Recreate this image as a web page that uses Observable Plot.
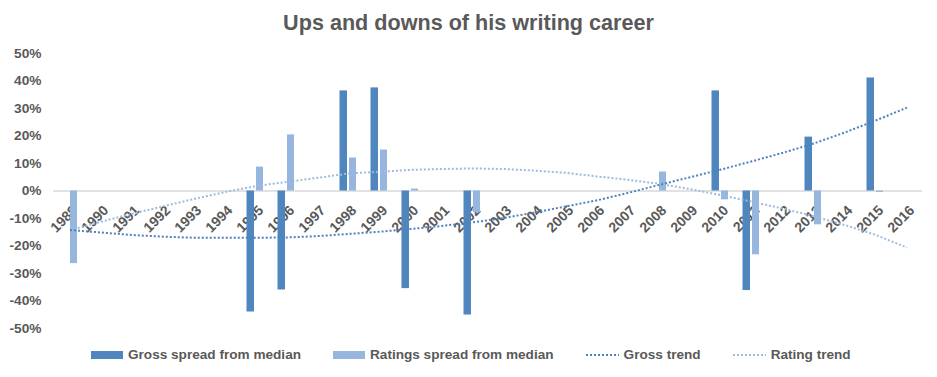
<!DOCTYPE html>
<html>
<head>
<meta charset="utf-8">
<script src="https://cdn.jsdelivr.net/npm/d3@7"></script>
<script src="https://cdn.jsdelivr.net/npm/@observablehq/plot@0.6"></script>
<style>
  html, body { margin: 0; padding: 0; background: #fff; }
  body { font-family: "Liberation Sans", Arial, sans-serif; }
  #wrap { width: 937px; height: 377px; position: relative; overflow: hidden; }
  #title { height: 40px; box-sizing: border-box; padding-top: 12px; text-align: center;
           font-weight: bold; font-size: 21.6px; line-height: 21px; color: #595959; }
  #chart { height: 300px; }
  #legend { position: absolute; top: 347px; left: 91px; display: flex; align-items: center;
            font-weight: bold; font-size: 13.6px; line-height: 16px; color: #595959; white-space: nowrap; }
  .item { display: flex; align-items: center; margin-right: 32px; }
  .sw { display: inline-block; width: 32px; height: 8px; margin-right: 5px; }
  .ln { display: inline-block; margin-right: 5px; }
</style>
</head>
<body>
<div id="wrap">
  <div id="title">Ups and downs of his writing career</div>
  <div id="chart"></div>
  <div id="legend"></div>
</div>
<script>
// ---- data (percent spread from median) ----
const years = [1989, 1990, 1991, 1992, 1993, 1994, 1995, 1996, 1997, 1998, 1999, 2000, 2001, 2002,
               2003, 2004, 2005, 2006, 2007, 2008, 2009, 2010, 2011, 2012, 2013, 2014, 2015, 2016];
const gross = [null, null, null, null, null, null, -44, -36, null, 36.4, 37.5, -35.5, null, -45.1,
               null, null, null, null, null, null, null, 36.4, -36.2, null, 19.6, null, 41.1, null];
const ratings = [-26.4, null, null, null, null, null, 8.7, 20.4, null, 12, 14.9, 0.7, null, -7.9,
                 null, null, null, null, null, 6.9, null, -3.2, -23.2, null, -12.3, null, -0.5, null];
const grossTrend = [-14.2, -15.1, -16, -16.6, -17, -17, -17, -16.9, -16.4, -15.6, -14.8, -13.8, -12.7, -11.4,
                    -9.8, -7.8, -5.6, -3.4, -0.7, 2.2, 5, 7.8, 10.8, 13.9, 17.3, 21.3, 25.7, 30.3];
const ratingTrend = [-14.2, -11.2, -8.3, -5.6, -2.9, -0.4, 1.8, 3.3, 4.8, 6.4, 7.0, 7.7, 8.0, 8.2,
                     8.0, 7.4, 6.6, 5.3, 4.1, 2.6, 0.7, -1.5, -3.9, -6.4, -9.2, -12.4, -16, -20.6];
const yTicks = [-50, -40, -30, -20, -10, 0, 10, 20, 30, 40, 50];
const seriesNames = ["Gross spread from median", "Ratings spread from median", "Gross trend", "Rating trend"];
const colors = { gross: "#4f86bd", ratings: "#96b6de", grossTrend: "#4f81bd", ratingTrend: "#9dbbe0" };

const rows = years.map((y, i) => ({
  year: String(y), gross: gross[i], rating: ratings[i], gt: grossTrend[i], rt: ratingTrend[i]
}));

const dash = "2 2";

const chart = Plot.plot({
  width: 937,
  height: 300,
  marginLeft: 53,
  marginRight: 15,
  marginTop: 13,
  marginBottom: 12,
  style: { fontFamily: "'Liberation Sans', Arial, sans-serif", fontSize: "13.7px", fontWeight: "bold", color: "#595959", background: "transparent" },
  x: { type: "band", domain: years.map(String), padding: 0, axis: null },
  y: { domain: [-50, 50], ticks: yTicks, tickSize: 0, tickPadding: 12, tickFormat: d => d + "%", label: null },
  marks: [
    Plot.ruleY([0], { stroke: "#d9d9d9", strokeWidth: 1.5 }),
    Plot.text(rows, {
      x: "year", y: d => 0, text: "year", rotate: -45, textAnchor: "end",
      dx: 5, dy: 17, fontSize: 14, fontWeight: "bold", fill: "#595959"
    }),
    Plot.barY(rows.filter(d => d.gross != null), { x: "year", y: "gross", fill: colors.gross, insetLeft: 6.5, insetRight: 17 }),
    Plot.barY(rows.filter(d => d.rating != null), { x: "year", y: "rating", fill: colors.ratings, insetLeft: 16, insetRight: 8 }),
    Plot.lineY(rows, { x: "year", y: "rt", stroke: colors.ratingTrend, strokeWidth: 2, strokeDasharray: dash, strokeLinecap: "butt" }),
    Plot.lineY(rows, { x: "year", y: "gt", stroke: colors.grossTrend, strokeWidth: 2, strokeDasharray: dash, strokeLinecap: "butt" })
  ]
});
document.getElementById("chart").appendChild(chart);

// ---- legend ----
const legend = document.getElementById("legend");
const kinds = [
  { type: "bar", color: colors.gross },
  { type: "bar", color: colors.ratings },
  { type: "line", color: colors.grossTrend },
  { type: "line", color: colors.ratingTrend }
];
seriesNames.forEach((name, i) => {
  const item = document.createElement("div");
  item.className = "item";
  const k = kinds[i];
  if (k.type === "bar") {
    const sw = document.createElement("span");
    sw.className = "sw";
    sw.style.background = k.color;
    item.appendChild(sw);
  } else {
    const ns = "http://www.w3.org/2000/svg";
    const svg = document.createElementNS(ns, "svg");
    svg.setAttribute("width", 33); svg.setAttribute("height", 8);
    svg.setAttribute("class", "ln");
    const l = document.createElementNS(ns, "line");
    l.setAttribute("x1", 0); l.setAttribute("x2", 33); l.setAttribute("y1", 4); l.setAttribute("y2", 4);
    l.setAttribute("stroke", k.color); l.setAttribute("stroke-width", 2);
    l.setAttribute("stroke-dasharray", dash);
    svg.appendChild(l);
    item.appendChild(svg);
  }
  const t = document.createElement("span");
  t.textContent = name;
  item.appendChild(t);
  legend.appendChild(item);
});
</script>
</body>
</html>
